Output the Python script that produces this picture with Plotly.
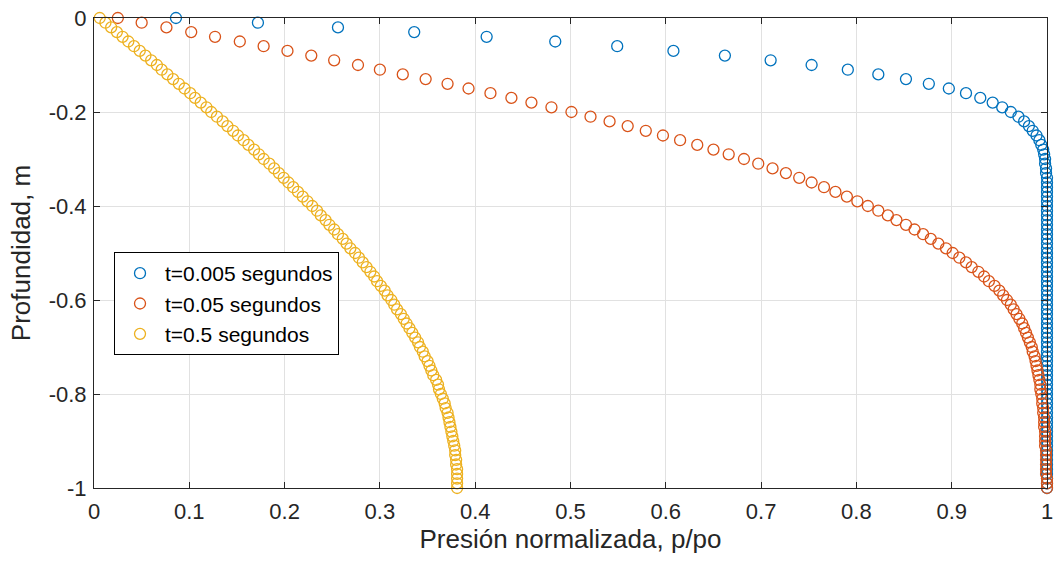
import plotly.graph_objects as go

# Depth (m), sampled every 0.01 m
depth = [0.0, -0.01, -0.02, -0.03, -0.04, -0.05, -0.06, -0.07, -0.08, -0.09,
         -0.1, -0.11, -0.12, -0.13, -0.14, -0.15, -0.16, -0.17, -0.18, -0.19,
         -0.2, -0.21, -0.22, -0.23, -0.24, -0.25, -0.26, -0.27, -0.28, -0.29,
         -0.3, -0.31, -0.32, -0.33, -0.34, -0.35, -0.36, -0.37, -0.38, -0.39,
         -0.4, -0.41, -0.42, -0.43, -0.44, -0.45, -0.46, -0.47, -0.48, -0.49,
         -0.5, -0.51, -0.52, -0.53, -0.54, -0.55, -0.56, -0.57, -0.58, -0.59,
         -0.6, -0.61, -0.62, -0.63, -0.64, -0.65, -0.66, -0.67, -0.68, -0.69,
         -0.7, -0.71, -0.72, -0.73, -0.74, -0.75, -0.76, -0.77, -0.78, -0.79,
         -0.8, -0.81, -0.82, -0.83, -0.84, -0.85, -0.86, -0.87, -0.88, -0.89,
         -0.9, -0.91, -0.92, -0.93, -0.94, -0.95, -0.96, -0.97, -0.98, -0.99,
         -1.0]

# Normalized pressure p/po, t = 0.005 s
p_t0005 = [0.086, 0.172, 0.256, 0.336, 0.412, 0.484, 0.549, 0.608, 0.662, 0.710,
           0.753, 0.791, 0.823, 0.852, 0.876, 0.897, 0.915, 0.930, 0.943, 0.953,
           0.962, 0.970, 0.976, 0.981, 0.985, 0.989, 0.992, 0.994, 0.996, 0.997,
           0.998, 0.998, 0.999, 0.999, 1.0, 1.0, 1.0, 1.0, 1.0, 1.0,
           1.0, 1.0, 1.0, 1.0, 1.0, 1.0, 1.0, 1.0, 1.0, 1.0,
           1.0, 1.0, 1.0, 1.0, 1.0, 1.0, 1.0, 1.0, 1.0, 1.0,
           1.0, 1.0, 1.0, 1.0, 1.0, 1.0, 1.0, 1.0, 1.0, 1.0,
           1.0, 1.0, 1.0, 1.0, 1.0, 1.0, 1.0, 1.0, 1.0, 1.0,
           1.0, 1.0, 1.0, 1.0, 1.0, 1.0, 1.0, 1.0, 1.0, 1.0,
           1.0, 1.0, 1.0, 1.0, 1.0, 1.0, 1.0, 1.0, 1.0, 1.0,
           1.0]

# Normalized pressure p/po, t = 0.05 s
p_t005 = [0.025, 0.050, 0.076, 0.102, 0.127, 0.153, 0.178, 0.203, 0.228, 0.252,
          0.277, 0.300, 0.324, 0.348, 0.371, 0.393, 0.416, 0.438, 0.459, 0.480,
          0.501, 0.521, 0.541, 0.560, 0.579, 0.597, 0.615, 0.633, 0.650, 0.666,
          0.682, 0.697, 0.712, 0.726, 0.740, 0.753, 0.766, 0.778, 0.790, 0.801,
          0.812, 0.823, 0.833, 0.842, 0.852, 0.861, 0.870, 0.878, 0.886, 0.894,
          0.901, 0.908, 0.915, 0.921, 0.928, 0.934, 0.939, 0.945, 0.950, 0.954,
          0.958, 0.962, 0.965, 0.968, 0.971, 0.974, 0.976, 0.978, 0.980, 0.982,
          0.984, 0.985, 0.987, 0.988, 0.989, 0.990, 0.991, 0.992, 0.993, 0.993,
          0.994, 0.995, 0.995, 0.996, 0.996, 0.997, 0.997, 0.997, 0.998, 0.998,
          0.998, 0.998, 0.999, 0.999, 0.999, 0.999, 0.999, 0.999, 1.0, 1.0,
          1.0]

# Normalized pressure p/po, t = 0.5 s
p_t05 = [0.006, 0.012, 0.018, 0.024, 0.030, 0.036, 0.042, 0.048, 0.054, 0.060,
         0.066, 0.071, 0.077, 0.083, 0.089, 0.095, 0.101, 0.106, 0.112, 0.118,
         0.123, 0.129, 0.135, 0.140, 0.146, 0.151, 0.157, 0.162, 0.168, 0.173,
         0.178, 0.184, 0.189, 0.194, 0.199, 0.204, 0.209, 0.214, 0.219, 0.224,
         0.229, 0.234, 0.238, 0.243, 0.247, 0.252, 0.256, 0.261, 0.265, 0.269,
         0.274, 0.278, 0.282, 0.286, 0.290, 0.294, 0.297, 0.301, 0.305, 0.308,
         0.312, 0.315, 0.318, 0.322, 0.325, 0.328, 0.331, 0.334, 0.337, 0.340,
         0.342, 0.345, 0.347, 0.350, 0.352, 0.354, 0.356, 0.359, 0.361, 0.362,
         0.364, 0.366, 0.368, 0.369, 0.371, 0.372, 0.373, 0.374, 0.375, 0.376,
         0.377, 0.378, 0.379, 0.379, 0.380, 0.380, 0.381, 0.381, 0.381, 0.381,
         0.381]

series_names = ["t=0.005 segundos", "t=0.05 segundos", "t=0.5 segundos"]
series_values = [p_t0005, p_t005, p_t05]
series_colors = ["#0072BD", "#D95319", "#EDB120"]

x_tickvals = [0, 0.1, 0.2, 0.3, 0.4, 0.5, 0.6, 0.7, 0.8, 0.9, 1]
x_ticktext = ["0", "0.1", "0.2", "0.3", "0.4", "0.5", "0.6", "0.7", "0.8", "0.9", "1"]
y_tickvals = [-1, -0.8, -0.6, -0.4, -0.2, 0]
y_ticktext = ["-1", "-0.8", "-0.6", "-0.4", "-0.2", "0"]

FONT = "Liberation Sans, Arial, Helvetica, sans-serif"
AX = "#262626"

fig = go.Figure()
for name, vals, col in zip(series_names, series_values, series_colors):
    fig.add_trace(go.Scatter(
        x=vals, y=depth, mode="markers", name=name,
        marker=dict(symbol="circle-open", size=11, color=col,
                    line=dict(width=1.3, color=col)),
        cliponaxis=False,
    ))

axis_common = dict(
    showline=True, linecolor=AX, linewidth=1, mirror="ticks",
    ticks="inside", ticklen=6, tickwidth=1, tickcolor=AX,
    showgrid=True, gridcolor="#E1E1E1", gridwidth=1,
    zeroline=False, tickfont=dict(family=FONT, size=22, color=AX),
    ticklabeloverflow="allow", automargin=False,
)

fig.update_layout(
    width=1054, height=564,
    margin=dict(l=94, r=7, t=18, b=76, autoexpand=False),
    paper_bgcolor="white", plot_bgcolor="white",
    font=dict(family=FONT, color=AX),
    showlegend=True,
    legend=dict(
        x=0.021, y=0.502, xanchor="left", yanchor="top",
        bgcolor="white", bordercolor="#000000", borderwidth=1,
        font=dict(family=FONT, size=21, color="#000000"),
        tracegroupgap=0, itemwidth=40,
    ),
    xaxis=dict(range=[0, 1], tickvals=x_tickvals, ticktext=x_ticktext,
               ticklabelstandoff=4,
               title=dict(text="Presión normalizada, p/po",
                          font=dict(family=FONT, size=26, color=AX), standoff=6),
               **axis_common),
    yaxis=dict(range=[-1, 0], tickvals=y_tickvals, ticktext=y_ticktext,
               ticklabelstandoff=2,
               title=dict(text="Profundidad, m",
                          font=dict(family=FONT, size=26, color=AX), standoff=10),
               **axis_common),
)

fig.write_html("out.html")
